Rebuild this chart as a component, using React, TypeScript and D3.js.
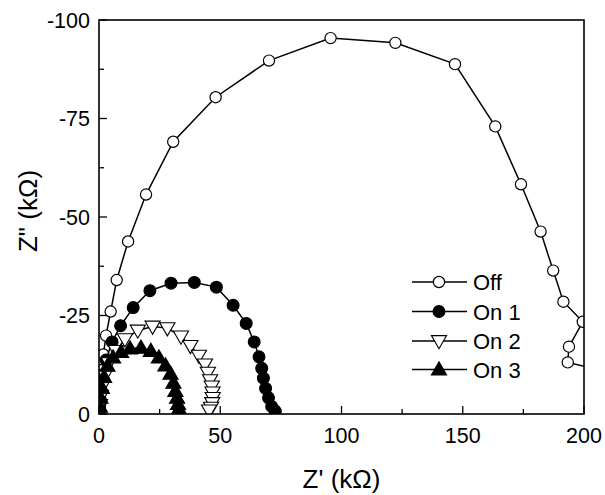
import React from "react";
import * as d3 from "d3";

// Nyquist data, Z' (kΩ) and Z'' (kΩ)
const offX = [0.1, 0.2, 0.3, 0.4, 0.5, 0.6, 0.7, 0.8, 1.1, 1.8, 2.9, 4.8, 7.3, 12.0, 19.4, 30.6, 48.1, 70.1, 95.5, 122.2, 146.8, 163.4, 174.0, 182.1, 187.3, 191.5, 199.5, 193.8, 193.3, 210];
const offY = [-0.3, -1.0, -1.6, -2.3, -3.0, -3.6, -5.3, -7.9, -11.2, -15.1, -19.9, -26.0, -34.0, -43.8, -55.7, -69.1, -80.4, -89.7, -95.4, -94.2, -88.8, -73.0, -58.3, -46.3, -36.4, -28.5, -23.4, -17.1, -13.1, -10.7];

const on1X = [0.4, 0.8, 1.6, 2.9, 5.4, 8.9, 14.1, 21.0, 29.7, 39.3, 48.4, 55.3, 60.7, 64.0, 66.0, 67.1, 67.8, 68.7, 69.9, 71.2, 72.6];
const on1Y = [-2.8, -6.1, -9.9, -13.7, -18.3, -22.4, -27.0, -31.3, -33.2, -33.4, -32.2, -27.6, -23.0, -18.3, -14.5, -11.6, -9.1, -6.5, -4.1, -1.9, -0.8];

const on2X = [0.4, 0.8, 1.4, 2.5, 4.1, 7.0, 10.7, 16.0, 22.1, 28.2, 33.8, 37.7, 41.2, 43.7, 44.9, 45.8, 46.5, 46.8, 46.9, 46.7, 46.2, 45.4];
const on2Y = [-2.3, -4.6, -7.1, -9.9, -12.9, -16.0, -19.0, -21.2, -22.2, -21.8, -19.7, -17.3, -14.8, -12.6, -10.5, -8.6, -7.0, -5.5, -4.1, -2.8, -1.6, -0.9];

const on3X = [0.4, 0.6, 1.2, 2.1, 3.5, 5.8, 9.1, 12.8, 17.3, 21.4, 24.7, 27.4, 29.5, 30.7, 31.5, 32.2, 32.6, 33.0, 33.4];
const on3Y = [-1.8, -4.1, -6.6, -9.4, -12.2, -14.3, -15.7, -16.6, -16.8, -16.0, -14.3, -12.3, -10.2, -7.9, -5.8, -4.1, -2.5, -1.3, -0.5];

const seriesNames = ["Off", "On 1", "On 2", "On 3"];
const xTicks = [0, 50, 100, 150, 200];
const yTicks = [0, -25, -50, -75, -100];

type Marker = "circleOpen" | "circleFilled" | "triDownOpen" | "triUpFilled";
const markers: Marker[] = ["circleOpen", "circleFilled", "triDownOpen", "triUpFilled"];
const seriesXs = [offX, on1X, on2X, on3X];
const seriesYs = [offY, on1Y, on2Y, on3Y];

const FONT = "'Liberation Sans', Arial, Helvetica, sans-serif";

const L = 99, R = 584, T = 20, B = 414;

function MarkerShape({ kind, x, y }: { kind: Marker; x: number; y: number }) {
  if (kind === "circleOpen" || kind === "circleFilled") {
    return (
      <circle cx={x} cy={y} r={kind === "circleOpen" ? 5.6 : 5.9} fill={kind === "circleOpen" ? "#fff" : "#000"} stroke="#000" strokeWidth={1.2} />
    );
  }
  const p = d3.symbol().type(d3.symbolTriangle).size(100)() as string;
  const rot = kind === "triDownOpen" ? 180 : 0;
  return (
    <path
      d={p}
      transform={`translate(${x},${y + (kind === "triDownOpen" ? -1 : 1)}) rotate(${rot})`}
      fill={kind === "triDownOpen" ? "#fff" : "#000"}
      stroke="#000"
      strokeWidth={1.1}
      strokeLinejoin="miter"
    />
  );
}

export default function App() {
  const x = d3.scaleLinear().domain([0, 200]).range([L, R]);
  const y = d3.scaleLinear().domain([0, -100]).range([B, T]);
  const line = d3.line<[number, number]>().x((d) => x(d[0])).y((d) => y(d[1]));

  const xMinor = d3.range(0, 201, 25).filter((v) => v % 50 !== 0);
  const yMinor = d3.range(0, -101, -12.5).filter((v) => v % 25 !== 0);

  const legendX0 = 412, legendX1 = 467, legendMx = 439;
  const legendY = [282, 311.5, 341, 369.5];

  return (
    <svg width={605} height={495} style={{ position: "absolute", left: 0, top: 0, background: "#fff" }}>
      <defs>
        <clipPath id="plotClip">
          <rect x={L} y={T} width={R - L} height={B - T} />
        </clipPath>
      </defs>
      <rect x={0} y={0} width={605} height={495} fill="#fff" />

      <g clipPath="url(#plotClip)">
        {seriesXs.map((xs, si) => {
          const pts: [number, number][] = xs.map((v, i) => [v, seriesYs[si][i]]);
          return (
            <g key={si}>
              <path d={line(pts) as string} fill="none" stroke="#000" strokeWidth={1.5} />
              {pts.map((p, i) => (
                <MarkerShape key={i} kind={markers[si]} x={x(p[0])} y={y(p[1])} />
              ))}
            </g>
          );
        })}
      </g>

      {/* frame */}
      <rect x={L} y={T} width={R - L} height={B - T} fill="none" stroke="#000" strokeWidth={1.6} />

      {/* x ticks */}
      {xTicks.map((t) => (
        <g key={"xt" + t}>
          <line x1={x(t)} x2={x(t)} y1={B} y2={B - 8} stroke="#000" strokeWidth={1.3} />
          <text x={x(t)} y={443} textAnchor="middle" fontFamily={FONT} fontSize={21.5} fill="#000">
            {t}
          </text>
        </g>
      ))}
      {xMinor.map((t) => (
        <line key={"xm" + t} x1={x(t)} x2={x(t)} y1={B} y2={B - 5} stroke="#000" strokeWidth={1.3} />
      ))}

      {/* y ticks */}
      {yTicks.map((t) => (
        <g key={"yt" + t}>
          <line x1={L} x2={L + 8} y1={y(t)} y2={y(t)} stroke="#000" strokeWidth={1.3} />
          <text x={90} y={y(t) + 7.7} textAnchor="end" fontFamily={FONT} fontSize={21.5} fill="#000">
            {t}
          </text>
        </g>
      ))}
      {yMinor.map((t) => (
        <line key={"ym" + t} x1={L} x2={L + 5} y1={y(t)} y2={y(t)} stroke="#000" strokeWidth={1.3} />
      ))}

      {/* axis titles */}
      <text x={(L + R) / 2} y={488} textAnchor="middle" fontFamily={FONT} fontSize={26} fill="#000">
        Z' (kΩ)
      </text>
      <text
        transform={`translate(37,${(T + B) / 2 - 6}) rotate(-90)`}
        textAnchor="middle"
        fontFamily={FONT}
        fontSize={26}
        fill="#000"
      >
        Z" (kΩ)
      </text>

      {/* legend */}
      {seriesNames.map((name, i) => (
        <g key={name}>
          <line x1={legendX0} x2={legendX1} y1={legendY[i]} y2={legendY[i]} stroke="#000" strokeWidth={1.5} />
          <MarkerShape kind={markers[i]} x={legendMx} y={legendY[i]} />
          <text x={473} y={legendY[i] + 8} fontFamily={FONT} fontSize={22} fill="#000">
            {name}
          </text>
        </g>
      ))}
    </svg>
  );
}
